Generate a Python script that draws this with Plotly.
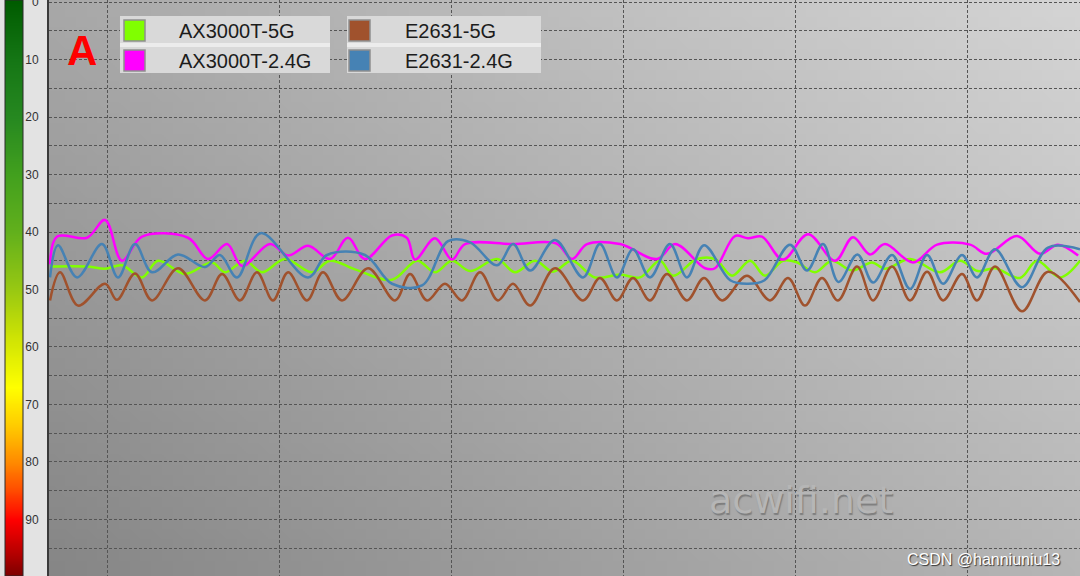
import base64
import struct
import zlib
import plotly.graph_objects as go

W, H = 1080, 576

# ---------------- data (seconds, signal strength in -dBm) ----------------
series_names = ["AX3000T-5G", "AX3000T-2.4G", "E2631-5G", "E2631-2.4G"]
series_colors = ["#80ff00", "#ff00ff", "#a0522d", "#4682b4"]

t_ax_5g = [0.06, 2.27, 3.26, 4.24, 5.41, 6.34, 7.91, 9.48, 10.23, 11.4,
           12.38, 13.72, 15.29, 16.34, 17.79, 19.94, 21.4, 22.44, 23.43, 24.48,
           26.05, 27.09, 28.26, 29.3, 30.41, 31.74, 33.2, 34.36, 35.52, 36.28,
           37.67, 38.72, 39.71, 40.76, 41.63, 42.67, 43.5, 44.53, 45.52, 46.69,
           47.85, 48.6, 50.06, 51.8, 52.97, 54.0, 55.0, 56.45, 57.44, 58.78, 59.94]
v_ax_5g = [46.0, 46.0, 46.4, 45.8, 47.9, 45.0, 47.3, 45.3, 47.0, 45.0,
           47.0, 44.7, 47.0, 45.0, 46.5, 48.3, 45.0, 47.0, 45.0, 46.8,
           44.7, 47.0, 45.0, 46.9, 45.0, 47.9, 47.4, 47.9, 45.0, 47.6,
           44.7, 44.7, 47.6, 45.0, 47.6, 45.0, 45.3, 47.0, 45.0, 46.7,
           45.3, 46.4, 44.7, 47.0, 45.0, 46.8, 46.3, 48.0, 45.0, 47.9, 45.0]

t_ax_24g = [0.06, 0.47, 2.21, 3.26, 4.24, 5.41, 8.08, 9.24, 10.35, 11.22,
            12.85, 13.9, 15.06, 16.34, 17.38, 18.37, 19.94, 20.8, 21.28, 22.44,
            23.43, 24.19, 27.0, 29.5, 30.41, 31.28, 33.2, 35.35, 36.4, 38.14,
            38.72, 39.88, 40.64, 41.45, 42.67, 44.13, 45.7, 46.74, 47.73, 48.6,
            50.23, 51.63, 53.55, 54.53, 56.28, 57.62, 58.66, 59.83]
v_ax_24g = [45.6, 40.8, 41.0, 37.9, 45.0, 40.8, 41.0, 44.7, 42.1, 45.9,
            42.1, 44.1, 42.4, 44.7, 41.0, 44.7, 40.6, 41.0, 44.8, 41.1,
            44.8, 42.1, 42.1, 42.0, 44.7, 42.1, 42.1, 44.7, 42.1, 46.3,
            46.3, 40.7, 41.1, 40.8, 44.8, 40.4, 45.0, 40.9, 43.9, 42.1,
            45.3, 42.2, 42.2, 43.8, 40.7, 43.8, 42.2, 44.1]

t_e_5g = [0.06, 0.64, 1.69, 3.26, 3.95, 5.0, 5.99, 7.5, 9.07, 10.06,
          11.1, 12.09, 13.02, 13.9, 15.0, 15.93, 17.03, 18.55, 20.12, 20.99,
          21.98, 23.02, 24.01, 25.06, 26.1, 26.98, 27.97, 29.42, 31.05, 32.03,
          33.02, 33.95, 34.94, 35.93, 37.09, 38.08, 39.13, 40.58, 41.92, 42.97,
          43.95, 44.94, 45.87, 46.98, 47.91, 49.01, 50.06, 51.05, 51.98, 53.08,
          53.95, 55.0, 56.57, 58.08, 59.94]
v_e_5g = [51.9, 47.0, 52.8, 49.0, 51.8, 47.2, 51.9, 46.3, 51.9, 47.3,
          51.9, 47.0, 51.9, 47.0, 51.9, 47.0, 51.9, 46.3, 51.9, 47.3,
          51.9, 49.0, 51.9, 47.0, 51.9, 49.0, 52.8, 46.3, 51.9, 48.0,
          51.9, 48.0, 51.9, 47.3, 51.9, 48.0, 51.9, 47.6, 51.9, 48.0,
          52.8, 48.0, 51.9, 46.0, 51.9, 46.0, 51.9, 46.9, 51.9, 47.3,
          51.9, 46.0, 53.8, 46.9, 52.2]

t_e_24g = [0.06, 0.52, 1.63, 3.08, 4.01, 5.0, 5.99, 7.5, 9.07, 9.94,
           10.93, 12.3, 15.06, 16.16, 18.37, 19.94, 21.69, 23.2, 24.48, 26.05,
           26.98, 27.97, 29.42, 31.05, 32.03, 33.02, 33.95, 34.94, 36.1, 37.09,
           38.08, 39.6, 40.6, 41.6, 43.08, 44.07, 45.0, 45.9, 47.0, 47.91,
           49.01, 50.06, 51.05, 51.98, 53.08, 53.95, 55.0, 56.57, 58.08, 59.94]
v_e_24g = [47.9, 42.3, 47.9, 42.1, 47.9, 42.1, 47.0, 43.9, 46.1, 44.0,
           47.9, 40.2, 47.9, 44.0, 44.0, 49.0, 49.3, 41.6, 41.8, 45.8,
           42.1, 46.7, 41.4, 47.9, 42.1, 47.9, 43.0, 47.9, 42.1, 47.9,
           42.3, 48.4, 49.0, 48.4, 42.2, 46.7, 42.1, 48.7, 43.9, 48.8,
           44.0, 49.9, 44.0, 49.0, 44.0, 47.9, 43.0, 49.6, 42.7, 43.0]

y_tick_values = [0, 5, 10, 15, 20, 25, 30, 35, 40, 45, 50, 55, 60, 65, 70, 75, 80, 85, 90, 95, 100]
y_tick_labels = ["0", "", "10", "", "20", "", "30", "", "40", "", "50", "", "60", "", "70", "", "80", "", "90", "", "100"]
scale_levels = list(range(0, 101))

# ---------------- helpers ----------------
def px(x):
    return x / W


def py(y):
    return 1 - y / H


def gradient_png(w, h, tl, tr, bl, br):
    rows = []
    for j in range(h):
        fy = j / (h - 1)
        row = bytearray([0])
        for i in range(w):
            fx = i / (w - 1)
            top = tl + (tr - tl) * fx
            bot = bl + (br - bl) * fx
            v = int(round(top + (bot - top) * fy))
            row += bytes([v, v, v])
        rows.append(bytes(row))
    raw = b"".join(rows)

    def chunk(tag, data):
        return (struct.pack(">I", len(data)) + tag + data +
                struct.pack(">I", zlib.crc32(tag + data) & 0xFFFFFFFF))

    png = (b"\x89PNG\r\n\x1a\n" +
           chunk(b"IHDR", struct.pack(">IIBBBBB", w, h, 8, 2, 0, 0, 0)) +
           chunk(b"IDAT", zlib.compress(raw, 9)) +
           chunk(b"IEND", b""))
    return "data:image/png;base64," + base64.b64encode(png).decode()


Y_RANGE = [99.83, -0.35]
X_RANGE = [0, 59.94]
PLOT_LEFT = 49

fig = go.Figure()

# colour scale strip on the left
fig.add_trace(go.Heatmap(
    x=[0], y=scale_levels, z=[[lv] for lv in scale_levels],
    colorscale=[[0, "#005c00"], [0.1, "#157615"], [0.2, "#268820"], [0.3, "#42a01e"],
                [0.4, "#62b01c"], [0.5, "#98c812"], [0.58, "#cce204"], [0.67, "#ffff00"],
                [0.74, "#ffc800"], [0.8, "#ff8a00"], [0.85, "#ff4a00"], [0.9, "#ff0000"],
                [0.95, "#c00000"], [1, "#7a0000"]],
    zmin=0, zmax=100, showscale=False, zsmooth="best", hoverinfo="skip",
    xaxis="x2", yaxis="y2"))

series = [
    (t_ax_5g, v_ax_5g),
    (t_ax_24g, v_ax_24g),
    (t_e_5g, v_e_5g),
    (t_e_24g, v_e_24g),
]
for (t, v), name, color in zip(series, series_names, series_colors):
    fig.add_trace(go.Scatter(
        x=t, y=v, mode="lines", name=name,
        line=dict(color=color, width=2.5, shape="spline", smoothing=1.0),
        xaxis="x", yaxis="y", showlegend=False))

grid_style = dict(gridcolor="#555555", griddash="3px,2px", gridwidth=1)

fig.update_layout(
    width=W, height=H,
    margin=dict(l=0, r=0, t=0, b=0, autoexpand=False),
    paper_bgcolor="#e3e3e3",
    plot_bgcolor="rgba(0,0,0,0)",
    showlegend=False,
    xaxis=dict(domain=[px(PLOT_LEFT), 1], range=X_RANGE, tick0=3.372, dtick=10,
               showgrid=True, showticklabels=False, ticks="", zeroline=False,
               showline=False, automargin=False, **grid_style),
    yaxis=dict(range=Y_RANGE, tickmode="array", tickvals=y_tick_values, ticktext=y_tick_labels,
               showgrid=True, zeroline=False, ticks="", showline=True, automargin=False,
               linecolor="#3a3a3a", linewidth=2, ticklabelstandoff=6, ticklabeloverflow="allow",
               tickfont=dict(family="Liberation Sans, Arial", size=12, color="#333333"),
               **grid_style),
    xaxis2=dict(domain=[px(5), px(23)], anchor="y2", range=[-0.5, 0.5], visible=False,
                automargin=False),
    yaxis2=dict(domain=[0, 1], anchor="x2", range=Y_RANGE, visible=False, automargin=False),
)

# plot-area gradient background
fig.add_layout_image(dict(
    source=gradient_png(96, 54, 168, 212, 134, 182),
    xref="paper", yref="paper", x=px(PLOT_LEFT), y=1,
    sizex=1 - px(PLOT_LEFT), sizey=1, xanchor="left", yanchor="top",
    sizing="stretch", layer="below"))

shapes = []
# colour strip border
shapes.append(dict(type="rect", xref="paper", yref="paper", x0=px(5), x1=px(23),
                   y0=0, y1=1, line=dict(color="#2a2a2a", width=1), fillcolor="rgba(0,0,0,0)"))

# legend boxes
legend_cols = [(120, 330), (347, 541)]
legend_rows = [(16, 44), (46, 73)]
swatch_x = [(124, 145), (349, 370)]
swatch_y = [(20, 41), (50, 71)]
text_x = [177, 403]
row_center = [31, 61]
legend_order = [[0, 2], [1, 3]]  # [row][col] -> series index

annotations = []
for c, (x0, x1) in enumerate(legend_cols):
    shapes.append(dict(type="rect", xref="paper", yref="paper", x0=px(x0), x1=px(x1),
                       y0=py(73), y1=py(16), line=dict(width=0), fillcolor="#ececec", layer="above"))
    for r, (y0, y1) in enumerate(legend_rows):
        shapes.append(dict(type="rect", xref="paper", yref="paper", x0=px(x0), x1=px(x1),
                           y0=py(y1 - (1 if r == 0 else 0)), y1=py(y0 + (1 if r == 1 else 0)),
                           line=dict(width=0), fillcolor="#d9d9d9", layer="above"))
        idx = legend_order[r][c]
        sx0, sx1 = swatch_x[c]
        sy0, sy1 = swatch_y[r]
        shapes.append(dict(type="rect", xref="paper", yref="paper", x0=px(sx0), x1=px(sx1),
                           y0=py(sy1), y1=py(sy0), line=dict(color="#8e8e8e", width=1.5),
                           fillcolor=series_colors[idx], layer="above"))
        annotations.append(dict(xref="paper", yref="paper", x=px(text_x[c]), y=py(row_center[r]),
                                xanchor="left", yanchor="middle", showarrow=False,
                                text=series_names[idx],
                                font=dict(family="Liberation Sans, Arial", size=20, color="#1c1c1c")))

# big red "A"
annotations.append(dict(xref="paper", yref="paper", x=px(82), y=py(50), xanchor="center",
                        yanchor="middle", showarrow=False, text="A",
                        font=dict(family="Liberation Sans, Arial", size=42, color="#ff0000", weight=700)))

# watermark (embossed look via text shadow)
annotations.append(dict(xref="paper", yref="paper", x=px(801), y=py(500),
                        xanchor="center", yanchor="middle", showarrow=False, text="acwifi.net",
                        font=dict(family="DejaVu Sans", size=38, color="#b6b6b6",
                                  shadow="1px 2px 1px #7e7e7e")))
annotations.append(dict(xref="paper", yref="paper", x=px(1062), y=py(559),
                        xanchor="right", yanchor="middle", showarrow=False,
                        text="CSDN @hanniuniu13",
                        font=dict(family="Liberation Sans, Arial", size=16, color="#ffffff",
                                  shadow="1px 1px 1px #333333")))

fig.update_layout(shapes=shapes, annotations=annotations)

fig.write_html("out.html",
               config={"displayModeBar": False},
               post_script="document.body.style.margin='0';document.body.style.overflow='hidden';")
